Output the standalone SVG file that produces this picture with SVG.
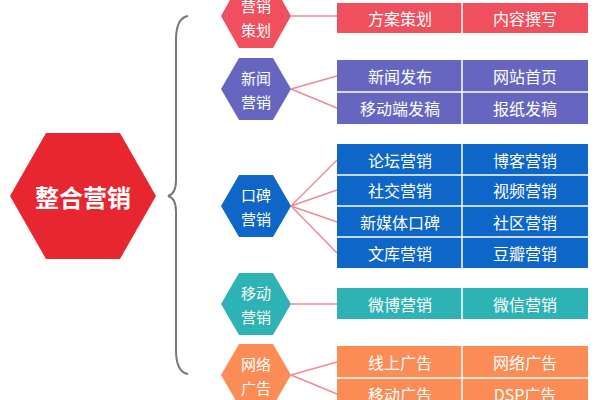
<svg xmlns="http://www.w3.org/2000/svg" width="600" height="400" viewBox="0 0 600 400">
<style>
text{font-family:"Noto Sans CJK SC","Noto Sans",sans-serif;fill:#fff;text-anchor:middle;dominant-baseline:central}
.b{font-size:16px}.h{font-size:15px}
.c{stroke:#f08a9a;stroke-width:1.5;fill:none}
.sep{stroke:#fff;stroke-width:1.5}
</style>
<rect width="600" height="400" fill="#fff"/>
<g id="connectors">
<path d="M188,16 Q176,18 176,40 L176,180 Q176,194 168,196 Q176,198 176,212 L176,350 Q176,372 188,374" stroke="#777" stroke-width="2" fill="none"/>
<path class="c" d="M291,16H337 M291,89L337,76 M291,89L337,108 M291,206L337,160 M291,206L337,190 M291,206L337,222 M291,206L337,253 M291,304H337 M291,375L337,362 M291,375L337,394"/>
</g>
<g id="main"><polygon points="10,196 46,133 120,133 156,196 120,259 46,259" fill="#e8262f"/><text x="83" y="196" style="font-size:24px;font-weight:bold">整合营销</text></g>
<g id="h1"><polygon points="221,16 239,-16 273,-16 291,16 273,48 239,48" fill="#f0505e"/><text class="h" x="256" y="5">营销</text><text class="h" x="256" y="29">策划</text></g>
<g id="h2"><polygon points="221,89 239,58 273,58 291,89 273,120 239,120" fill="#6666c0"/><text class="h" x="256" y="77">新闻</text><text class="h" x="256" y="101">营销</text></g>
<g id="h3"><polygon points="221,206 239,175 273,175 291,206 273,237 239,237" fill="#0d66c8"/><text class="h" x="256" y="194">口碑</text><text class="h" x="256" y="218">营销</text></g>
<g id="h4"><polygon points="221,304 239,273 273,273 291,304 273,335 239,335" fill="#2db3b3"/><text class="h" x="256" y="292">移动</text><text class="h" x="256" y="316">营销</text></g>
<g id="h5"><polygon points="221,375 239,344 273,344 291,375 273,406 239,406" fill="#fb8c55"/><text class="h" x="256" y="363">网络</text><text class="h" x="256" y="387">广告</text></g>
<g id="b1"><rect x="337" y="3" width="251" height="30" fill="#f0505e"/><line class="sep" x1="462" y1="3" x2="462" y2="33"/><text class="b" x="400" y="18">方案策划</text><text class="b" x="525" y="18">内容撰写</text></g>
<g id="b2"><rect x="337" y="60" width="251" height="64" fill="#6666c0"/><path class="sep" d="M462,60V124M337,92H588"/><text class="b" x="400" y="76">新闻发布</text><text class="b" x="525" y="76">网站首页</text><text class="b" x="400" y="108">移动端发稿</text><text class="b" x="525" y="108">报纸发稿</text></g>
<g id="b3"><rect x="337" y="144" width="251" height="124" fill="#0d66c8"/><path class="sep" d="M462,144V268M337,175H588M337,206H588M337,237H588"/>
<text class="b" x="400" y="160">论坛营销</text><text class="b" x="525" y="160">博客营销</text>
<text class="b" x="400" y="190">社交营销</text><text class="b" x="525" y="190">视频营销</text>
<text class="b" x="400" y="222">新媒体口碑</text><text class="b" x="525" y="222">社区营销</text>
<text class="b" x="400" y="253">文库营销</text><text class="b" x="525" y="253">豆瓣营销</text></g>
<g id="b4"><rect x="337" y="288" width="251" height="31" fill="#2db3b3"/><line class="sep" x1="462" y1="288" x2="462" y2="319"/><text class="b" x="400" y="304">微博营销</text><text class="b" x="525" y="304">微信营销</text></g>
<g id="b5"><rect x="337" y="346" width="251" height="64" fill="#fb8c55"/><path class="sep" d="M462,346V410M337,378H588"/><text class="b" x="400" y="362">线上广告</text><text class="b" x="525" y="362">网络广告</text><text class="b" x="400" y="394">移动广告</text><text class="b" x="525" y="394">DSP广告</text></g>
</svg>
